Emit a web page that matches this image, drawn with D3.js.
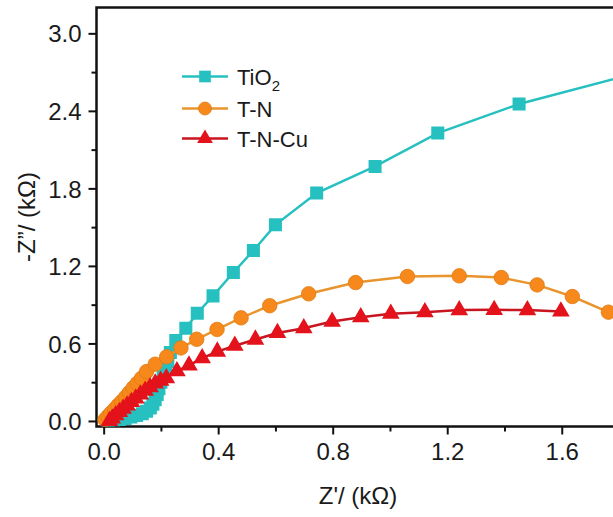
<!DOCTYPE html>
<html>
<head>
<meta charset="utf-8">
<script src="https://cdn.jsdelivr.net/npm/d3@7/dist/d3.min.js"></script>
<style>
  html, body { margin: 0; padding: 0; background: #fff; }
  svg { display: block; font-family: "Liberation Sans", Arial, sans-serif; }
</style>
</head>
<body>
<svg id="chart" width="613" height="517"></svg>
<script>
// ---- Data (Z' in kΩ, -Z'' in kΩ) ----
const seriesNames = ["TiO2", "T-N", "T-N-Cu"];

const tio2X = [0.015,0.035,0.055,0.075,0.095,0.115,0.135,0.150,0.163,0.172,0.180,0.187,0.193,0.200,0.208,0.216,0.224,0.233,0.252,0.287,0.327,0.382,0.453,0.523,0.600,0.744,0.948,1.167,1.451,1.840];
const tio2Y = [0.000,0.005,0.012,0.020,0.030,0.042,0.056,0.075,0.100,0.130,0.165,0.205,0.250,0.300,0.350,0.400,0.460,0.530,0.622,0.718,0.834,0.968,1.149,1.319,1.518,1.764,1.970,2.228,2.453,2.680];

const tnX = [0.005,0.015,0.025,0.038,0.050,0.063,0.077,0.090,0.103,0.117,0.132,0.150,0.180,0.220,0.270,0.325,0.396,0.480,0.580,0.716,0.880,1.061,1.242,1.389,1.514,1.637,1.763];
const tnY = [0.010,0.035,0.060,0.090,0.120,0.150,0.185,0.220,0.255,0.290,0.330,0.382,0.439,0.496,0.565,0.632,0.708,0.798,0.892,0.984,1.071,1.118,1.123,1.110,1.053,0.963,0.842];

const tncuX = [0.020,0.030,0.042,0.055,0.068,0.082,0.097,0.112,0.128,0.145,0.162,0.180,0.199,0.219,0.256,0.298,0.344,0.397,0.458,0.530,0.607,0.699,0.798,0.898,1.003,1.122,1.242,1.364,1.480,1.597];
const tncuY = [0.000,0.020,0.045,0.070,0.095,0.120,0.148,0.175,0.205,0.235,0.262,0.290,0.312,0.331,0.386,0.430,0.486,0.537,0.582,0.630,0.681,0.718,0.769,0.803,0.830,0.842,0.858,0.860,0.858,0.847];

const xTicks = [0.0, 0.4, 0.8, 1.2, 1.6];
const xMinorTicks = [0.2, 0.6, 1.0, 1.4, 1.8];
const yTicks = [0.0, 0.6, 1.2, 1.8, 2.4, 3.0];
const yMinorTicks = [0.3, 0.9, 1.5, 2.1, 2.7];

const xLabel = "Z'/ (kΩ)";
const yLabel = "-Z\u201D/ (kΩ)";

// ---- Layout ----
const svg = d3.select("#chart");
const mLeft = 96.5, mTop = 7.5, mRight = 619, mBottom = 426.5;

const x = d3.scaleLinear().domain([-0.025, 1.8]).range([mLeft, mRight]);
const y = d3.scaleLinear().domain([-0.043, 3.2]).range([mBottom, mTop]);

svg.append("defs").append("clipPath").attr("id", "plotclip")
  .append("rect").attr("x", mLeft).attr("y", mTop).attr("width", mRight - mLeft).attr("height", mBottom - mTop);

// axes
const fmt = d3.format(".1f");
const gx = svg.append("g").attr("transform", `translate(0,${mBottom})`)
  .call(d3.axisBottom(x).tickValues(xTicks).tickFormat(fmt).tickSize(8).tickSizeOuter(0).tickPadding(8));
const gxm = svg.append("g").attr("transform", `translate(0,${mBottom})`)
  .call(d3.axisBottom(x).tickValues(xMinorTicks).tickFormat("").tickSize(5).tickSizeOuter(0));
const gy = svg.append("g").attr("transform", `translate(${mLeft},0)`)
  .call(d3.axisLeft(y).tickValues(yTicks).tickFormat(fmt).tickSize(8).tickSizeOuter(0).tickPadding(7));
const gym = svg.append("g").attr("transform", `translate(${mLeft},0)`)
  .call(d3.axisLeft(y).tickValues(yMinorTicks).tickFormat("").tickSize(5).tickSizeOuter(0));

[gx, gxm, gy, gym].forEach(g => {
  g.select(".domain").remove();
  g.selectAll(".tick line").attr("stroke", "#111").attr("stroke-width", 2);
  g.selectAll(".tick text").attr("fill", "#1a1a1a").style("font-size", "24px")
    .style("font-family", '"Liberation Sans", Arial, sans-serif');
});
gy.selectAll(".tick text").attr("dy", "0.36em");

// frame
svg.append("rect").attr("x", mLeft).attr("y", mTop).attr("width", mRight - mLeft).attr("height", mBottom - mTop)
  .attr("fill", "none").attr("stroke", "#111").attr("stroke-width", 2.5);

// axis titles
svg.append("text").attr("x", 358).attr("y", 504).attr("text-anchor", "middle")
  .style("font-size", "24px").attr("fill", "#1a1a1a").text(xLabel);
svg.append("text").attr("transform", `translate(35,217) rotate(-90)`).attr("text-anchor", "middle")
  .style("font-size", "24px").attr("fill", "#1a1a1a").text(yLabel);

// series
const series = [
  { name: "TiO2", xs: tio2X, ys: tio2Y, color: "#27C0C0", line: "#27C0C0", shape: d3.symbolSquare, size: 170, stroke: "none" },
  { name: "T-N", xs: tnX, ys: tnY, color: "#F7891C", line: "#E8952E", shape: d3.symbolCircle, size: 165, stroke: "#E07B12" },
  { name: "T-N-Cu", xs: tncuX, ys: tncuY, color: "#E3121B", line: "#C8151F", shape: d3.symbolTriangle, size: 135, stroke: "none" },
];

const plot = svg.append("g").attr("clip-path", "url(#plotclip)");
const lineGen = d3.line().x(d => x(d[0])).y(d => y(d[1]));

series.forEach(s => {
  const pts = s.xs.map((v, i) => [v, s.ys[i]]);
  const g = plot.append("g");
  g.append("path").datum(pts).attr("d", lineGen).attr("fill", "none")
    .attr("stroke", s.line).attr("stroke-width", 2.5);
  g.selectAll("path.m").data(pts).enter().append("path").attr("class", "m")
    .attr("d", d3.symbol().type(s.shape).size(s.size))
    .attr("transform", d => `translate(${x(d[0])},${y(d[1])})`)
    .attr("fill", s.color).attr("stroke", s.stroke).attr("stroke-width", 0.8);
});

// legend
const legY = [76.5, 108.5, 138.5];
series.forEach((s, i) => {
  const g = svg.append("g").attr("transform", `translate(0,${legY[i]})`);
  g.append("line").attr("x1", 182).attr("x2", 228).attr("y1", 0).attr("y2", 0)
    .attr("stroke", s.line).attr("stroke-width", 2.5);
  g.append("path").attr("d", d3.symbol().type(s.shape).size(s.size * 0.8))
    .attr("transform", "translate(205,0)").attr("fill", s.color).attr("stroke", s.stroke).attr("stroke-width", 0.8);
  const t = g.append("text").attr("x", 237).attr("y", 8).style("font-size", "22px").attr("fill", "#1a1a1a");
  if (s.name === "TiO2") {
    t.append("tspan").text("TiO");
    t.append("tspan").attr("dy", 6).style("font-size", "15px").text("2");
  } else {
    t.text(s.name);
  }
});
</script>
</body>
</html>
